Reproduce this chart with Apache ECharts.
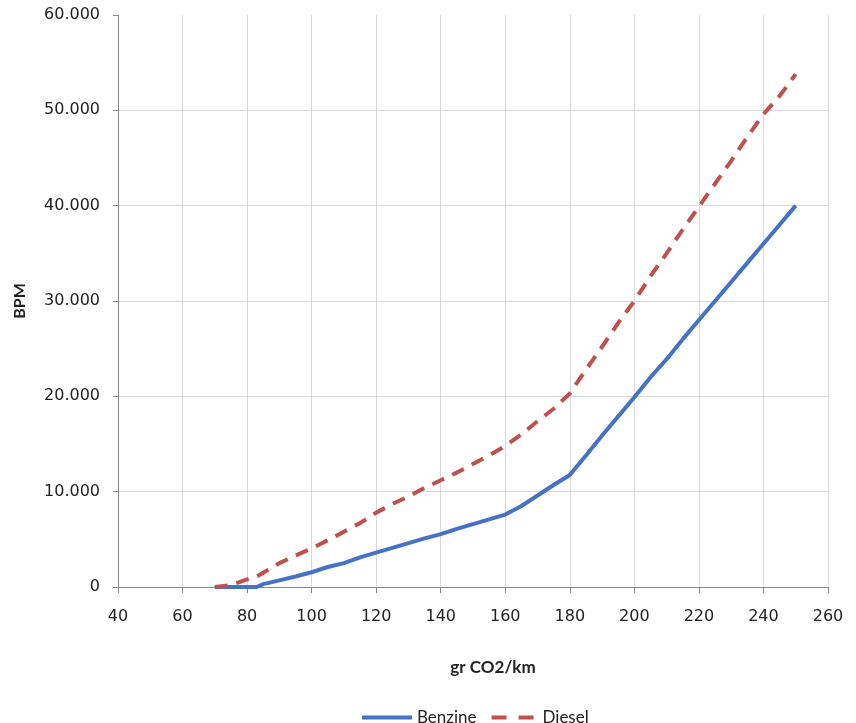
<!DOCTYPE html>
<html><head><meta charset="utf-8">
<script src="https://cdn.jsdelivr.net/npm/echarts@6/dist/echarts.min.js"></script>
<style>html,body{margin:0;padding:0;background:#fff}#c{width:856px;height:723px}</style>
</head><body><div id="c"></div>
<script>
const xValues = [70,75,80,83,85,90,95,100,105,110,115,120,125,130,135,140,145,150,155,160,165,170,175,180,185,190,195,200,205,210,215,220,225,230,235,240,245,250];
const benzine = [0,0,0,0,300,700,1100,1550,2100,2500,3100,3600,4100,4600,5100,5550,6100,6600,7100,7600,8500,9600,10700,11750,13800,15900,17900,19900,22000,23900,26000,28000,30000,32000,34000,36000,38000,40000];
const diesel  = [0,200,800,1100,1500,2500,3300,4050,4900,5800,6700,7800,8700,9500,10400,11200,12000,12900,13800,14800,16000,17400,18700,20300,22800,25200,27700,30000,32600,35000,37500,39900,42300,44700,47200,49600,51500,53800];
const seriesNames = ['Benzine','Diesel'];

const chart = echarts.init(document.getElementById('c'));
const fmt = v => v === 0 ? '0' : String(v).replace(/\B(?=(\d{3})+(?!\d))/g, '.');
chart.setOption({
  animation:false,
  grid:{left:118,right:28,top:15,bottom:136},
  legend:{left:357,top:704,itemWidth:50,itemHeight:4,itemGap:15,icon:'path://M0,0H50V4H0Z',
    textStyle:{fontFamily:'Lato',fontSize:17,color:'#222'},
    data:[{name:seriesNames[0]},{name:seriesNames[1],icon:'path://M0,0H15V4H0ZM27,0H42V4H27Z'}]},
  xAxis:{type:'value',min:40,max:260,interval:20,
    name:'gr CO2/km',nameLocation:'middle',nameGap:72,
    nameTextStyle:{fontFamily:'Lato',fontWeight:'bold',fontSize:17,color:'#222',padding:[0,0,0,40]},
    axisLine:{lineStyle:{color:'#888'}},axisTick:{show:true,length:6,lineStyle:{color:'#888'}},
    axisLabel:{fontFamily:'DejaVu Sans',fontSize:16,color:'#222',margin:22},
    splitLine:{show:true,lineStyle:{color:'#d9d9d9'}}},
  yAxis:{type:'value',min:0,max:60000,interval:10000,
    name:'BPM',nameLocation:'middle',nameGap:90,nameRotate:90,
    nameTextStyle:{fontFamily:'Lato',fontWeight:'bold',fontSize:16,color:'#222'},
    axisLine:{show:true,lineStyle:{color:'#888'}},axisTick:{show:true,length:5,lineStyle:{color:'#888'}},
    axisLabel:{fontFamily:'DejaVu Sans',fontSize:16,color:'#222',margin:18,formatter:fmt},
    splitLine:{show:true,showMaxLine:false,lineStyle:{color:'#d9d9d9'}}},
  series:[
    {name:seriesNames[0],type:'line',showSymbol:false,symbol:'none',smooth:false,
      data:xValues.map((x,i)=>[x,benzine[i]]),lineStyle:{color:'#4472c4',width:4},itemStyle:{color:'#4472c4'}},
    {name:seriesNames[1],type:'line',showSymbol:false,symbol:'none',smooth:false,
      data:xValues.map((x,i)=>[x,diesel[i]]),lineStyle:{color:'#c0504d',width:4,type:[13,9]},itemStyle:{color:'#c0504d'}}
  ]
});
</script></body></html>
